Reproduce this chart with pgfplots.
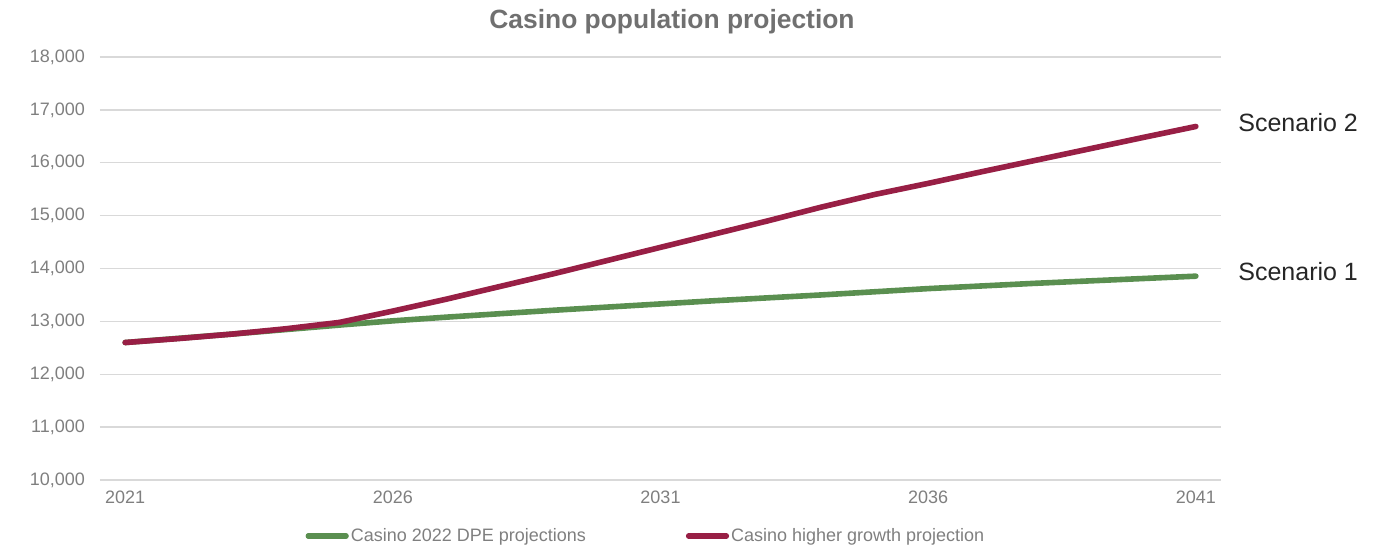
\documentclass[border=0pt]{standalone}
\usepackage{fontspec}
\setmainfont{Liberation Sans}
\usepackage{pgfplots}
\pgfplotsset{compat=1.18}
\definecolor{cgreen}{HTML}{5A8F50}
\definecolor{cred}{HTML}{981F45}
\definecolor{cgrid}{HTML}{D9D9D9}
\definecolor{ctick}{HTML}{7F7F7F}
\definecolor{ctitle}{HTML}{707070}
\definecolor{cscen}{HTML}{262626}
\begin{document}
\begin{tikzpicture}[x=1pt,y=1pt]
\path[use as bounding box] (-50,-34) rectangle (644.5,240);
\begin{axis}[
  at={(0,0)}, anchor=south west, scale only axis,
  width=560.5pt, height=211.5pt,
  xmin=2020.53, xmax=2041.47, ymin=10000, ymax=18000,
  xtick={2021,2026,2031,2036,2041},
  ytick={10000,11000,...,18000},
  scaled y ticks=false,
  ymajorgrids, major grid style={cgrid, line width=0.7pt},
  axis line style={draw=none}, tick style={draw=none},
  /pgf/number format/assume math mode=true,
  ticklabel style={font=\fontsize{9}{10}\selectfont, text=ctick},
  xticklabel style={/pgf/number format/1000 sep=, yshift=-2pt},
  yticklabel style={/pgf/number format/fixed, /pgf/number format/1000 sep={,}, xshift=-4pt},
  legend style={at={(0.487,-0.1324)}, anchor=center, draw=none, fill=none,
    font=\fontsize{9}{10}\selectfont, text=ctick,
    /tikz/every even column/.append style={column sep=49pt},
    nodes={inner sep=1pt}},
  legend columns=2,
  legend cell align=left,
  legend image code/.code={\draw[#1, line width=2.6pt, line cap=round] (0pt,0pt) -- (19pt,0pt);},
  clip=false,
]
\addplot[cgreen, line width=2.8pt, line cap=round, line join=round] coordinates {
(2021,12600) (2022,12680) (2023,12760) (2024,12845) (2025,12930)
(2026,13010) (2027,13080) (2028,13145) (2029,13210) (2030,13270)
(2031,13330) (2032,13390) (2033,13445) (2034,13500) (2035,13560)
(2036,13620) (2037,13670) (2038,13720) (2039,13765) (2040,13810)
(2041,13855)};
\addlegendentry{Casino 2022 DPE projections}
\addplot[cred, line width=2.8pt, line cap=round, line join=round] coordinates {
(2021,12600) (2022,12675) (2023,12760) (2024,12860) (2025,12980)
(2026,13195) (2027,13420) (2028,13660) (2029,13900) (2030,14150)
(2031,14400) (2032,14650) (2033,14900) (2034,15160) (2035,15400)
(2036,15610) (2037,15830) (2038,16045) (2039,16260) (2040,16475)
(2041,16686)};
\addlegendentry{Casino higher growth projection}
\node[anchor=west, inner sep=0pt, text=cscen, font=\fontsize{12.5}{14}\selectfont]
  at (rel axis cs:1,0.8447) [xshift=8.5pt] {Scenario 2};
\node[anchor=west, inner sep=0pt, text=cscen, font=\fontsize{12.5}{14}\selectfont]
  at (rel axis cs:1,0.4917) [xshift=8.5pt] {Scenario 1};
\end{axis}
\node[text=ctitle, font=\fontsize{13.2}{15}\selectfont\bfseries] at (286,229) {Casino population projection};
\end{tikzpicture}
\end{document}
